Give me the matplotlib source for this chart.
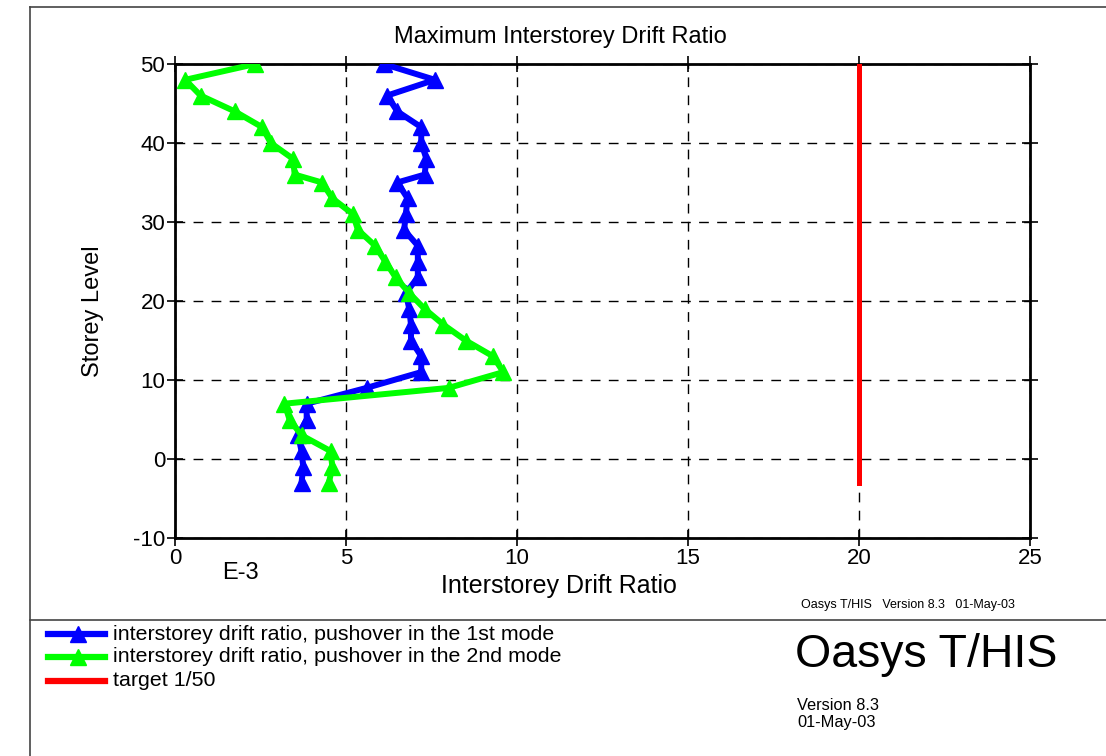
import matplotlib
matplotlib.use("Agg")
import matplotlib.pyplot as plt
from matplotlib.lines import Line2D

plt.rcParams['font.family'] = ['Liberation Sans', 'DejaVu Sans']
plt.rcParams['axes.unicode_minus'] = False

# Storey levels (bottom to top) and drift ratios in units of 1E-3
levels = [-3, -1, 1, 3, 5, 7, 9, 11, 13, 15, 17, 19, 21, 23, 25, 27, 29, 31,
          33, 35, 36, 38, 40, 42, 44, 46, 48, 50]
drift_mode1 = [3.7, 3.75, 3.7, 3.6, 3.85, 3.85, 5.6, 7.2, 7.2, 6.9, 6.9, 6.85,
               6.75, 7.1, 7.1, 7.1, 6.7, 6.75, 6.8, 6.5, 7.3, 7.35, 7.2, 7.2,
               6.5, 6.2, 7.6, 6.1]
drift_mode2 = [4.5, 4.6, 4.55, 3.7, 3.35, 3.2, 8.0, 9.6, 9.3, 8.5, 7.85, 7.3,
               6.85, 6.45, 6.15, 5.85, 5.35, 5.2, 4.6, 4.3, 3.5, 3.45, 2.8,
               2.55, 1.75, 0.75, 0.3, 2.35]
target_levels = [-3, 50]
target_drift = [20, 20]

series_labels = ["interstorey drift ratio, pushover in the 1st mode",
                 "interstorey drift ratio, pushover in the 2nd mode",
                 "target 1/50"]
series_colors = ["#0000ff", "#00ff00", "#ff0000"]

W, H = 1106, 756
fig = plt.figure(figsize=(W / 100, H / 100), dpi=100)


def fx(px):
    return px / W


def fy(py):
    return 1 - py / H


ax = fig.add_axes([fx(175), fy(538), fx(1030) - fx(175), fy(64) - fy(538)])

ax.plot(drift_mode1, levels, color=series_colors[0], lw=4.3, marker='^',
        markersize=12, zorder=3)
ax.plot(drift_mode2, levels, color=series_colors[1], lw=4.3, marker='^',
        markersize=12, zorder=4)
ax.plot(target_drift, target_levels, color=series_colors[2], lw=3.6, zorder=5)

ax.set_xlim(0, 25)
ax.set_ylim(-10, 50)
ax.set_xticks([0, 5, 10, 15, 20, 25])
ax.set_yticks([-10, 0, 10, 20, 30, 40, 50])
ax.grid(True, color='black', linestyle=(0, (7, 6)), linewidth=1.0)
ax.tick_params(direction='inout', length=12, width=1.2, labelsize=16,
               top=True, right=True, labeltop=False, labelright=False, pad=1)
for sp in ax.spines.values():
    sp.set_linewidth(2.0)

fig.text(fx(560), fy(37), "Maximum Interstorey Drift Ratio", fontsize=17,
         ha='center', va='center')
fig.text(fx(93), fy(311), "Storey Level", fontsize=17, rotation=90,
         ha='center', va='center')
fig.text(fx(559), fy(586), "Interstorey Drift Ratio", fontsize=18,
         ha='center', va='center')
fig.text(fx(240), fy(573), "E-3", fontsize=17, ha='center', va='center')
fig.text(fx(908), fy(605), "Oasys T/HIS   Version 8.3   01-May-03",
         fontsize=9, ha='center', va='center')

# Page frame and divider
fig.add_artist(Line2D([fx(30), fx(30)], [fy(7), fy(756)], color='#444444', lw=1.2))
fig.add_artist(Line2D([fx(30), fx(1106)], [fy(7), fy(7)], color='#444444', lw=1.2))
fig.add_artist(Line2D([fx(30), fx(1106)], [fy(620), fy(620)], color='#444444', lw=1.2))

# Key
key_y = [634, 657, 681]
for i, (lab, col) in enumerate(zip(series_labels, series_colors)):
    y = fy(key_y[i])
    fig.add_artist(Line2D([fx(48), fx(105)], [y, y], color=col, lw=4.5))
    if i < 2:
        fig.add_artist(Line2D([fx(78)], [y], color=col, marker='^',
                              markersize=12, lw=0))
    fig.text(fx(113), y, lab, fontsize=15.4, ha='left', va='center')

fig.text(fx(795), fy(655), "Oasys T/HIS", fontsize=33.5, ha='left', va='center')
fig.text(fx(797), fy(705), "Version 8.3", fontsize=11.8, ha='left', va='center')
fig.text(fx(797), fy(723), "01-May-03", fontsize=11.8, ha='left', va='center')

fig.savefig("out.png", dpi=100)
